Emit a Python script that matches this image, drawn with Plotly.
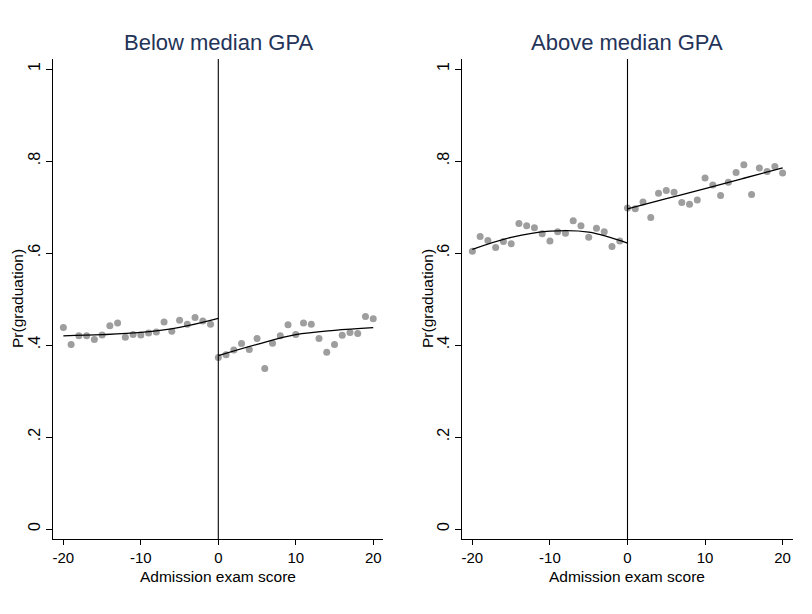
import plotly.graph_objects as go

# ---------------- data ----------------
x_left = list(range(-20, 0))
x_right = list(range(0, 21))

# Below median GPA: binned means
below_left = [0.438, 0.401, 0.420, 0.420, 0.412, 0.422, 0.442, 0.448, 0.417, 0.423,
              0.422, 0.426, 0.428, 0.450, 0.430, 0.454, 0.445, 0.460, 0.452, 0.445]
below_right = [0.373, 0.379, 0.389, 0.403, 0.390, 0.414, 0.349, 0.404, 0.420, 0.444,
               0.423, 0.448, 0.445, 0.414, 0.384, 0.401, 0.421, 0.427, 0.425, 0.462, 0.457]

# Above median GPA: binned means
above_left = [0.604, 0.636, 0.627, 0.612, 0.625, 0.620, 0.664, 0.659, 0.655, 0.642,
              0.626, 0.646, 0.643, 0.670, 0.659, 0.634, 0.654, 0.646, 0.614, 0.626]
above_right = [0.698, 0.696, 0.711, 0.677, 0.730, 0.736, 0.732, 0.710, 0.706, 0.715,
               0.763, 0.748, 0.725, 0.754, 0.775, 0.792, 0.727, 0.785, 0.777, 0.788, 0.774]

# fitted curves
fit_x_left = [-20, -15, -10, -5, 0]
fit_x_right = [0, 5, 10, 15, 20]
below_fit_left = [0.420, 0.4225, 0.4275, 0.4384, 0.458]
below_fit_right = [0.377, 0.4015, 0.4225, 0.432, 0.4377]
above_fit_left = [0.608, 0.634, 0.6475, 0.6455, 0.6217]
above_fit_right = [0.6957, 0.718, 0.740, 0.7625, 0.785]

panel_titles = ["Below median GPA", "Above median GPA"]
x_title = "Admission exam score"
y_title = "Pr(graduation)"
x_ticks = [-20, -10, 0, 10, 20]
x_ticktext = ["-20", "-10", "0", "10", "20"]
y_ticks = [0, 0.2, 0.4, 0.6, 0.8, 1.0]
y_ticktext = ["0", ".2", ".4", ".6", ".8", "1"]

# ---------------- figure ----------------
# the page body has an 8px margin, so the figure is placed at (8, 8)
OFF = 8
W, H = 812 - OFF, 614 - OFF
FONT = "Liberation Sans, Arial, Helvetica, sans-serif"
DOT = "#9e9e9e"
TITLE_COL = "#243358"


def px_x(p):
    return (p - OFF) / W


def px_y(p):
    return (H - (p - OFF)) / H


fig = go.Figure()

panels = [
    ("x", "y", below_left, below_right, below_fit_left, below_fit_right),
    ("x2", "y2", above_left, above_right, above_fit_left, above_fit_right),
]
for xa, ya, pl, pr, fl, fr in panels:
    fig.add_trace(go.Scatter(x=x_left + x_right, y=pl + pr, mode="markers",
                             marker=dict(color=DOT, size=7, line=dict(width=0)),
                             xaxis=xa, yaxis=ya, showlegend=False, hoverinfo="skip"))
    fig.add_trace(go.Scatter(x=fit_x_left, y=fl, mode="lines", line=dict(color="black", width=1.3, shape="spline"),
                             xaxis=xa, yaxis=ya, showlegend=False, hoverinfo="skip"))
    fig.add_trace(go.Scatter(x=fit_x_right, y=fr, mode="lines", line=dict(color="black", width=1.3, shape="spline"),
                             xaxis=xa, yaxis=ya, showlegend=False, hoverinfo="skip"))

ydom = [px_y(539), px_y(59)]
xdoms = [[px_x(53.3), px_x(383.3)], [px_x(462.3), px_x(792.7)]]
xr = [-21.3, 21.3]
yr = [-10 / 460, 1 + 10 / 460]

common_x = dict(range=xr, tickvals=x_ticks, ticktext=x_ticktext, ticks="outside", ticklen=5, tickcolor="black",
                tickwidth=1, showline=True, linecolor="black", linewidth=1, showgrid=False, zeroline=False,
                tickfont=dict(family=FONT, size=15, color="black"), automargin=False)
common_y = dict(range=yr, tickvals=y_ticks, ticktext=y_ticktext, ticks="outside", ticklen=6, tickcolor="black",
                tickwidth=1, showline=True, linecolor="black", linewidth=1, showgrid=False, zeroline=False,
                tickangle=-90, tickfont=dict(family=FONT, size=16, color="black"), automargin=False)

fig.update_layout(
    width=W, height=H,
    margin=dict(l=0, r=0, t=0, b=0),
    paper_bgcolor="white", plot_bgcolor="white",
    xaxis=dict(domain=xdoms[0], anchor="y", **common_x),
    yaxis=dict(domain=ydom, anchor="x", **common_y),
    xaxis2=dict(domain=xdoms[1], anchor="y2", **common_x),
    yaxis2=dict(domain=ydom, anchor="x2", **common_y),
)

# vertical cutoff lines
for xa, ya in [("x", "y"), ("x2", "y2")]:
    fig.add_shape(type="line", xref=xa, yref=ya + " domain", x0=0, x1=0, y0=0, y1=1,
                  line=dict(color="black", width=1.1))

centers = [218.3, 627.3]
yt_x = [17, 427]
for i in range(2):
    fig.add_annotation(text=panel_titles[i], xref="paper", yref="paper", x=px_x(centers[i]), y=px_y(43),
                       xanchor="center", yanchor="middle", showarrow=False,
                       font=dict(family=FONT, size=22, color=TITLE_COL))
    fig.add_annotation(text=x_title, xref="paper", yref="paper", x=px_x(centers[i]), y=px_y(576),
                       xanchor="center", yanchor="middle", showarrow=False,
                       font=dict(family=FONT, size=15.5, color="black"))
    fig.add_annotation(text=y_title, xref="paper", yref="paper", x=px_x(yt_x[i]), y=px_y(299),
                       xanchor="center", yanchor="middle", showarrow=False, textangle=-90,
                       font=dict(family=FONT, size=15.5, color="black"))

fig.write_html("out.html")
